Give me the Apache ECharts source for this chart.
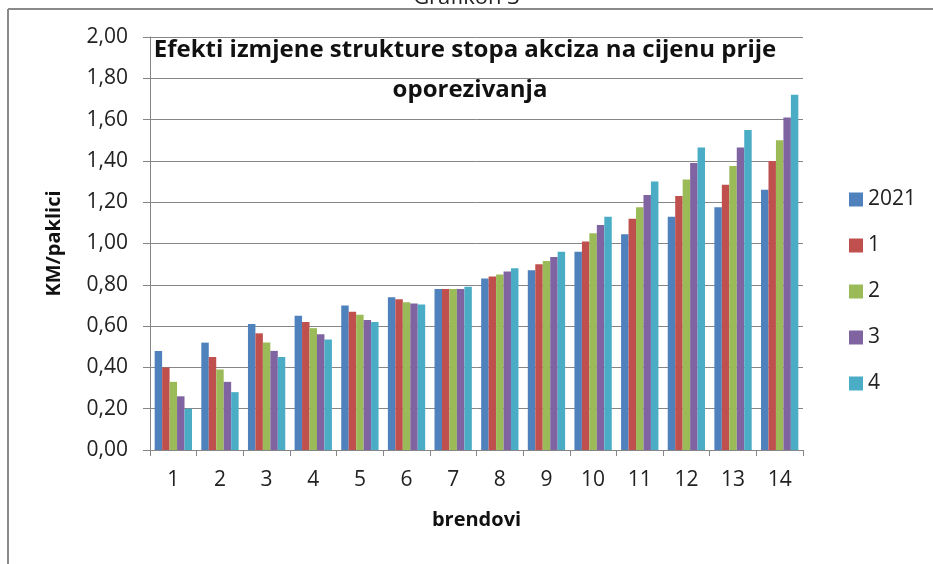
<!DOCTYPE html>
<html lang="bs">
<head>
    <meta charset="UTF-8">
    <title>Grafikon 3</title>
    <script type="text/javascript" src="https://cdn.jsdelivr.net/npm/echarts@6/dist/echarts.min.js"></script>
</head>
<body style="margin:0">
<div id="main" style="width: 933px;height:564px"></div>
<script type="text/javascript">
    var brendovi = ['1', '2', '3', '4', '5', '6', '7', '8', '9', '10', '11', '12', '13', '14'];
    var s2021 = [0.48, 0.52, 0.61, 0.65, 0.70, 0.74, 0.78, 0.83, 0.87, 0.96, 1.045, 1.13, 1.175, 1.26];
    var s1 = [0.40, 0.45, 0.565, 0.62, 0.67, 0.73, 0.78, 0.84, 0.90, 1.01, 1.12, 1.23, 1.285, 1.40];
    var s2 = [0.33, 0.39, 0.52, 0.59, 0.655, 0.715, 0.78, 0.85, 0.915, 1.05, 1.175, 1.31, 1.375, 1.50];
    var s3 = [0.26, 0.33, 0.48, 0.56, 0.63, 0.71, 0.78, 0.865, 0.935, 1.09, 1.235, 1.39, 1.465, 1.61];
    var s4 = [0.20, 0.28, 0.45, 0.535, 0.62, 0.705, 0.79, 0.88, 0.96, 1.13, 1.30, 1.465, 1.55, 1.72];
    var serijeNazivi = ['2021', '1', '2', '3', '4'];
    var boje = ['#4F81BD', '#C0504D', '#9BBB59', '#8064A2', '#4BACC6'];

    var chartDom = document.getElementById('main');
    var myChart = echarts.init(chartDom);

    var podaci = [s2021, s1, s2, s3, s4];
    var series = [];
    for (var i = 0; i < podaci.length; i++) {
        series.push({
            name: serijeNazivi[i],
            type: 'bar',
            data: podaci[i],
            barGap: '0%',
            barCategoryGap: '20%',
            itemStyle: {color: boje[i]}
        });
    }

    var naslovFont = 'bold 24px "Open Sans"';

    var option = {
        animation: false,
        color: boje,
        graphic: [
            {type: 'line', shape: {x1: 8, y1: 9, x2: 933, y2: 9}, style: {stroke: '#8a8a8a', lineWidth: 2}},
            {type: 'line', shape: {x1: 8, y1: 9, x2: 8, y2: 564}, style: {stroke: '#8a8a8a', lineWidth: 2}},
            {type: 'text', left: 'center', top: -13, style: {text: 'Grafikon 3', font: '22px "Open Sans"', fill: '#222'}},
            // naslov grafikona, dvije linije centrirane
            {type: 'text', x: 465, y: 50, style: {text: 'Efekti izmjene strukture stopa akciza na cijenu prije', font: naslovFont, fill: '#111', align: 'center', verticalAlign: 'middle'}, z: 10},
            {type: 'text', x: 470, y: 90, style: {text: 'oporezivanja', font: naslovFont, fill: '#111', align: 'center', verticalAlign: 'middle'}, z: 10}
        ],
        legend: {
            orient: 'vertical',
            left: 844,
            top: 184,
            icon: 'rect',
            itemWidth: 14,
            itemHeight: 14,
            itemGap: 25,
            textStyle: {fontFamily: 'Open Sans', fontSize: 21, color: '#222'}
        },
        grid: {left: 150, right: 130, top: 37, bottom: 114},
        xAxis: {
            type: 'category',
            data: brendovi,
            name: 'brendovi',
            nameLocation: 'middle',
            nameGap: 60,
            nameTextStyle: {fontFamily: 'Open Sans', fontWeight: 'bold', fontSize: 20, color: '#111'},
            axisLine: {lineStyle: {color: '#868686'}},
            axisTick: {show: true, length: 6, lineStyle: {color: '#868686'}},
            axisLabel: {fontFamily: 'Open Sans', fontSize: 21, color: '#222', margin: 20}
        },
        yAxis: {
            type: 'value',
            min: 0,
            max: 2,
            interval: 0.2,
            name: 'KM/paklici',
            nameLocation: 'middle',
            nameGap: 86,
            nameTextStyle: {fontFamily: 'Open Sans', fontWeight: 'bold', fontSize: 20, color: '#111'},
            axisLine: {show: true, lineStyle: {color: '#868686'}},
            axisTick: {show: true, length: 7, lineStyle: {color: '#868686'}},
            axisLabel: {
                fontFamily: 'Open Sans', fontSize: 21, color: '#222', margin: 22,
                formatter: function (v) { return v.toFixed(2).replace('.', ','); }
            },
            splitLine: {lineStyle: {color: '#868686', width: 1}}
        },
        series: series
    };

    option && myChart.setOption(option);
</script>
</body>
</html>
